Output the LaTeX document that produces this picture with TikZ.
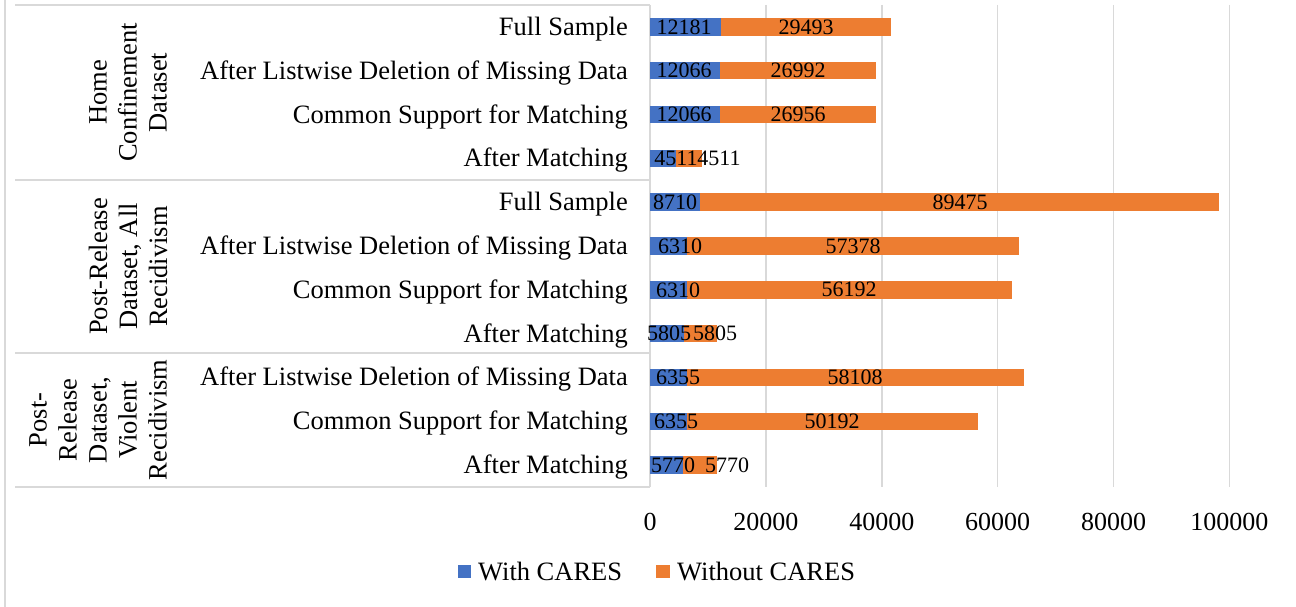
\documentclass[tikz,border=0pt]{standalone}
\usepackage{fontspec}
\setmainfont{Liberation Serif}
\definecolor{cblue}{HTML}{4472C4}
\definecolor{corange}{HTML}{ED7D31}
\definecolor{gridgray}{HTML}{D9D9D9}
\begin{document}
\begin{tikzpicture}[x=1pt,y=-1pt,
  catlabel/.style={anchor=base east, font=\fontsize{26.5}{30}\selectfont, inner sep=0pt},
  vallabel/.style={anchor=center, font=\fontsize{22}{26}\selectfont, inner sep=0pt},
  ticklabel/.style={anchor=base, font=\fontsize{26}{30}\selectfont, inner sep=0pt},
  grouplabel/.style={rotate=90, align=center, font=\fontsize{26.5}{30}\selectfont, inner sep=0pt},
  legendtext/.style={anchor=base west, font=\fontsize{26.5}{30}\selectfont, inner sep=0pt},
  gridline/.style={draw=gridgray, line width=1.5pt},
  bluebar/.style={fill=cblue},
  orangebar/.style={fill=corange}]
\useasboundingbox (0,0) rectangle (1296,607);
\fill[white] (0,0) rectangle (1296,607);
% chart border (left edge)
\draw[gridline] (5,0) -- (5,607);
% vertical gridlines
\foreach \v in {20,40,60,80,100}{
  \pgfmathsetmacro\gx{650+\v*5.7945}
  \draw[gridline] (\gx,5) -- (\gx,487);
}
% category axis and group separators
\draw[gridline] (650,5) -- (650,487);
\foreach \yy in {5,180,353,487}{
  \draw[gridline] (15,\yy) -- (650,\yy);
}
% bars and value labels
\foreach \i/\a/\b/\la/\lb/\ta/\tb in {
  0/12.181/29.493/684/806/12181/29493,
  1/12.066/26.992/684/798/12066/26992,
  2/12.066/26.956/684/798/12066/26956,
  3/4.511/4.511/676/719/4511/4511,
  4/8.710/89.475/675/960/8710/89475,
  5/6.310/57.378/680/853/6310/57378,
  6/6.310/56.192/678/849/6310/56192,
  7/5.805/5.805/669/715/5805/5805,
  8/6.355/58.108/678/855/6355/58108,
  9/6.355/50.192/676/832/6355/50192,
  10/5.770/5.770/673/727/5770/5770}{
  \pgfmathsetmacro\yc{5+43.818*(\i+0.5)}
  \pgfmathsetmacro\xa{650+\a*5.7945}
  \pgfmathsetmacro\xb{650+(\a+\b)*5.7945}
  \fill[bluebar] (650,\yc-8.75) rectangle (\xa,\yc+8.75);
  \fill[orangebar] (\xa,\yc-8.75) rectangle (\xb,\yc+8.75);
  \node[vallabel] (va\i) at (\la,\yc) {\ta};
  \node[vallabel] (vb\i) at (\lb,\yc) {\tb};
}
% category labels
\foreach \i/\t in {0/Full Sample,
  1/After Listwise Deletion of Missing Data,
  2/Common Support for Matching,
  3/After Matching,
  4/Full Sample,
  5/After Listwise Deletion of Missing Data,
  6/Common Support for Matching,
  7/After Matching,
  8/After Listwise Deletion of Missing Data,
  9/Common Support for Matching,
  10/After Matching}{
  \pgfmathsetmacro\yc{5+43.818*(\i+0.5)+8.5}
  \node[catlabel] (cat\i) at (628,\yc) {\t};
}
% group labels
\node[grouplabel] (g1) at (128,92.5) {Home\\Confinement\\Dataset};
\node[grouplabel] (g2) at (128,266.5) {Post-Release\\Dataset, All\\Recidivism};
\node[grouplabel] (g3) at (98,420) {Post-\\Release\\Dataset,\\Violent\\Recidivism};
% value axis tick labels
\foreach \v/\t in {0/0,20/20000,40/40000,60/60000,80/80000,100/100000}{
  \pgfmathsetmacro\gx{650+\v*5.7945}
  \node[ticklabel] (t\v) at (\gx,530) {\t};
}
% legend
\fill[cblue] (458,565) rectangle (471,578);
\node[legendtext] (leg1) at (478,580) {With CARES};
\fill[corange] (656,565) rectangle (670,578);
\node[legendtext] (leg2) at (677,580) {Without CARES};
\end{tikzpicture}
\end{document}
